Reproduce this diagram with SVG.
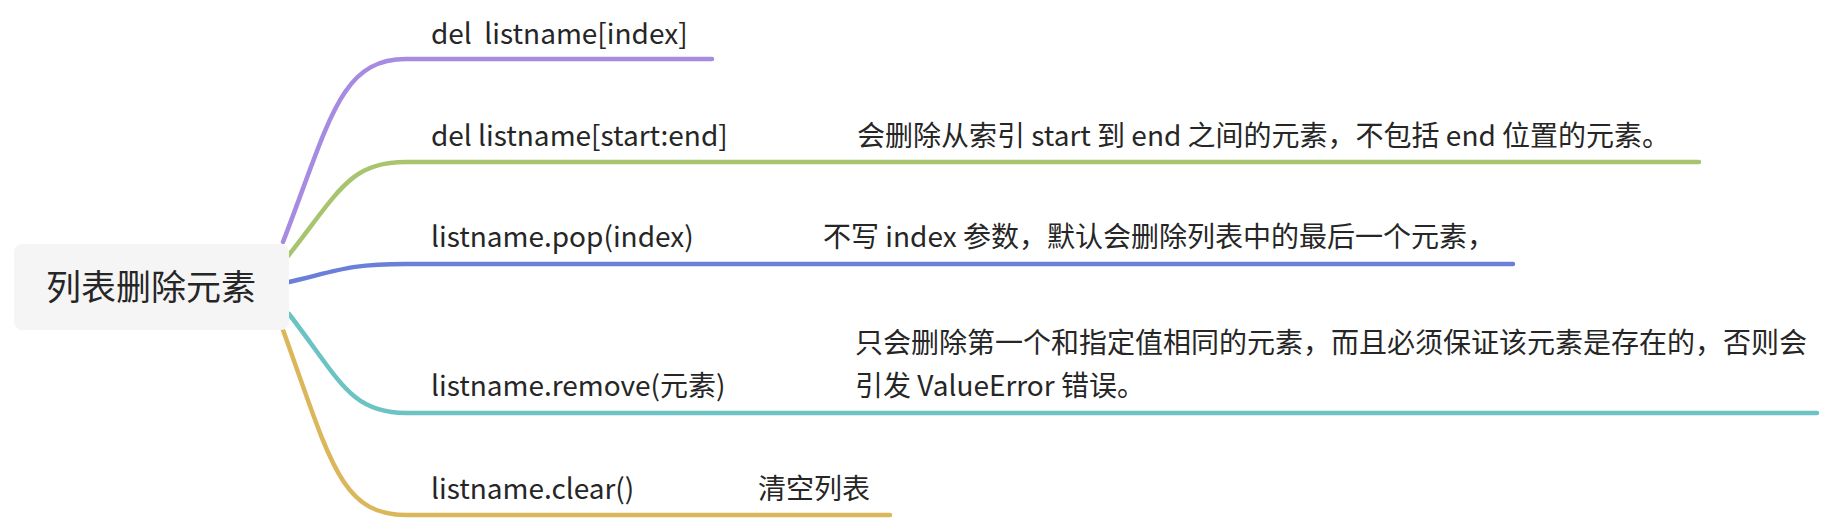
<svg xmlns="http://www.w3.org/2000/svg" width="1828" height="520" viewBox="0 0 1828 520">
<style>
text{font-family:"Noto Sans CJK SC","Noto Sans",sans-serif;fill:#262626;font-size:28px}
text.root{font-size:35px}
.c{fill:none;stroke-width:4.5;stroke-linecap:round}
</style>
<rect width="1828" height="520" fill="#fff"/>
<g id="connectors">
<path class="c" stroke="#a68be0" d="M283,242 C330,120 340,59 406,59 L712,59"/>
<path class="c" stroke="#a9c46e" d="M288,256 C340,190 350,162 406,162 L1699,162"/>
<path class="c" stroke="#6a7fd8" stroke-width="6" d="M289,282 C340,270 350,264 406,264 L1513,264"/>
<path class="c" stroke="#6bc3c4" d="M289,314 C340,380 350,413 406,413 L1817,413"/>
<path class="c" stroke="#dbb65a" d="M283,330 C330,460 340,515 406,515 L890,515"/>
</g>
<g id="root"><rect x="14" y="244" width="275" height="86" rx="8" fill="#f5f5f5"/><text class="root" x="151" y="300" text-anchor="middle">列表删除元素</text></g>
<g id="n1"><text x="431" y="44" xml:space="preserve">del  listname[index]</text></g>
<g id="n2"><text x="431" y="146">del listname[start:end]</text><text x="857" y="146">会删除从索引 start 到 end 之间的元素，不包括 end 位置的元素。</text></g>
<g id="n3"><text x="431" y="247">listname.pop(index)</text><text x="823" y="247">不写 index 参数，默认会删除列表中的最后一个元素，</text></g>
<g id="n4"><text x="431" y="396">listname.remove(元素)</text><text x="855" y="353">只会删除第一个和指定值相同的元素，而且必须保证该元素是存在的，否则会</text><text x="855" y="396">引发 ValueError 错误。</text></g>
<g id="n5"><text x="431" y="499">listname.clear()</text><text x="758" y="499">清空列表</text></g>
</svg>
